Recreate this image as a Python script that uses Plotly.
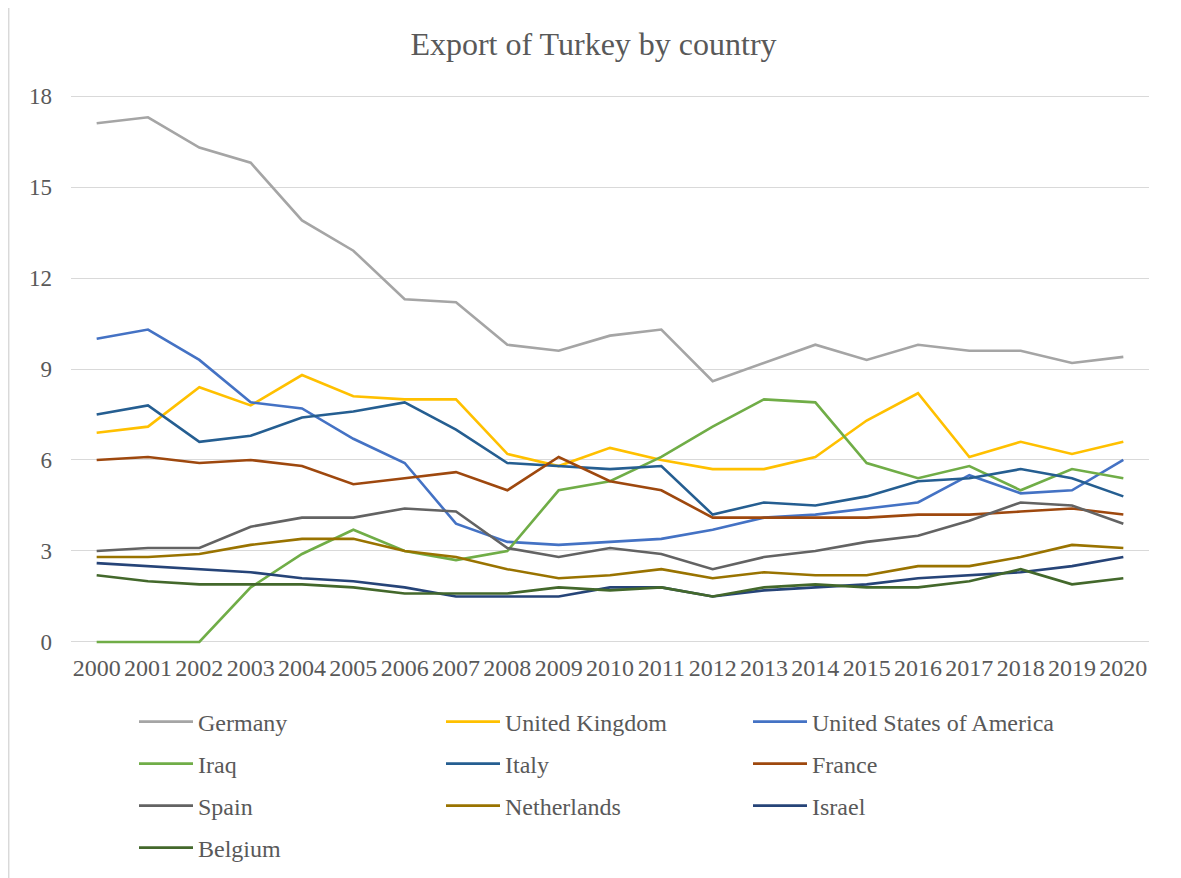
import plotly.graph_objects as go

years = list(range(2000, 2021))

germany = [17.1, 17.3, 16.3, 15.8, 13.9, 12.9, 11.3, 11.2, 9.8, 9.6, 10.1, 10.3, 8.6, 9.2, 9.8, 9.3, 9.8, 9.6, 9.6, 9.2, 9.4]
united_kingdom = [6.9, 7.1, 8.4, 7.8, 8.8, 8.1, 8.0, 8.0, 6.2, 5.8, 6.4, 6.0, 5.7, 5.7, 6.1, 7.3, 8.2, 6.1, 6.6, 6.2, 6.6]
usa = [10.0, 10.3, 9.3, 7.9, 7.7, 6.7, 5.9, 3.9, 3.3, 3.2, 3.3, 3.4, 3.7, 4.1, 4.2, 4.4, 4.6, 5.5, 4.9, 5.0, 6.0]
iraq = [0, 0, 0, 1.8, 2.9, 3.7, 3.0, 2.7, 3.0, 5.0, 5.3, 6.1, 7.1, 8.0, 7.9, 5.9, 5.4, 5.8, 5.0, 5.7, 5.4]
italy = [7.5, 7.8, 6.6, 6.8, 7.4, 7.6, 7.9, 7.0, 5.9, 5.8, 5.7, 5.8, 4.2, 4.6, 4.5, 4.8, 5.3, 5.4, 5.7, 5.4, 4.8]
france = [6.0, 6.1, 5.9, 6.0, 5.8, 5.2, 5.4, 5.6, 5.0, 6.1, 5.3, 5.0, 4.1, 4.1, 4.1, 4.1, 4.2, 4.2, 4.3, 4.4, 4.2]
spain = [3.0, 3.1, 3.1, 3.8, 4.1, 4.1, 4.4, 4.3, 3.1, 2.8, 3.1, 2.9, 2.4, 2.8, 3.0, 3.3, 3.5, 4.0, 4.6, 4.5, 3.9]
netherlands = [2.8, 2.8, 2.9, 3.2, 3.4, 3.4, 3.0, 2.8, 2.4, 2.1, 2.2, 2.4, 2.1, 2.3, 2.2, 2.2, 2.5, 2.5, 2.8, 3.2, 3.1]
israel = [2.6, 2.5, 2.4, 2.3, 2.1, 2.0, 1.8, 1.5, 1.5, 1.5, 1.8, 1.8, 1.5, 1.7, 1.8, 1.9, 2.1, 2.2, 2.3, 2.5, 2.8]
belgium = [2.2, 2.0, 1.9, 1.9, 1.9, 1.8, 1.6, 1.6, 1.6, 1.8, 1.7, 1.8, 1.5, 1.8, 1.9, 1.8, 1.8, 2.0, 2.4, 1.9, 2.1]

series_names = ["Germany", "United Kingdom", "United States of America", "Iraq", "Italy",
                "France", "Spain", "Netherlands", "Israel", "Belgium"]
series_values = [germany, united_kingdom, usa, iraq, italy, france, spain, netherlands, israel, belgium]
colors = ["#A5A5A5", "#FFC000", "#4472C4", "#70AD47", "#255E91",
          "#9E480E", "#636363", "#997300", "#264478", "#43682B"]
legend_ids = ["legend", "legend", "legend", "legend2", "legend2", "legend2",
              "legend3", "legend3", "legend3", "legend4"]

FONT = "Liberation Serif, Times New Roman, serif"
TXT = "#595959"

fig = go.Figure()
for name, vals, col, lg in zip(series_names, series_values, colors, legend_ids):
    fig.add_trace(go.Scatter(x=years, y=vals, name=name, mode="lines",
                             line=dict(color=col, width=2.6), legend=lg))

# page body offset (default 8px margin)
O = 8
W, H = 1181 - O, 878 - O
# plot area in window pixels
wl, wr, wt, wb = 71, 1149, 93, 645
pl, pr, pt, pb = wl - O, wr - O, wt - O, wb - O
ymin, ymax = -0.1, 18.1


def py(wpix):
    return (wb - wpix) / (wb - wt)


def px(wpix):
    return (wpix - wl) / (wr - wl)


leg_common = dict(orientation="h", xanchor="left", yanchor="middle",
                  xref="container", yref="container",
                  font=dict(family=FONT, size=24, color=TXT),
                  entrywidth=238, entrywidthmode="pixels",
                  bgcolor="rgba(0,0,0,0)", itemwidth=54)
row_y = [722, 764, 806, 848]
leg_x = (134 - O) / W

fig.update_layout(
    width=W, height=H,
    margin=dict(l=pl, r=W - pr, t=pt, b=H - pb, pad=0, autoexpand=False),
    paper_bgcolor="white", plot_bgcolor="white",
    title=dict(text="Export of Turkey by country", x=(593.5 - O) / W, xref="container",
               xanchor="center", y=1 - (44 - O) / H, yref="container", yanchor="middle",
               font=dict(family=FONT, size=32, color=TXT)),
    font=dict(family=FONT, color=TXT),
    showlegend=True,
    legend=dict(x=leg_x, y=1 - (row_y[0] - O) / H, **leg_common),
    legend2=dict(x=leg_x, y=1 - (row_y[1] - O) / H, **leg_common),
    legend3=dict(x=leg_x, y=1 - (row_y[2] - O) / H, **leg_common),
    legend4=dict(x=leg_x, y=1 - (row_y[3] - O) / H, **leg_common),
    xaxis=dict(range=[1999.5, 2020.5], tickmode="array", tickvals=years,
               ticktext=[str(y) for y in years], showgrid=False, zeroline=False,
               showline=False, ticks="", tickfont=dict(family=FONT, size=24, color=TXT),
               ticklabelstandoff=6),
    yaxis=dict(range=[ymin, ymax], tickmode="array", tickvals=[0, 3, 6, 9, 12, 15, 18],
               showgrid=True, gridcolor="#D9D9D9", gridwidth=1.3, zeroline=False,
               showline=False, ticks="", tickfont=dict(family=FONT, size=23, color=TXT),
               ticklabelstandoff=18),
    shapes=[
        dict(type="line", xref="paper", yref="paper", x0=px(8.7), x1=px(8.7), y0=py(0), y1=py(880),
             line=dict(color="#D9D9D9", width=1.5)),
        dict(type="line", xref="paper", yref="paper", x0=px(1178), x1=px(1178), y0=py(0), y1=py(880),
             line=dict(color="#D9D9D9", width=1.5)),
    ],
)

fig.write_html("out.html")
